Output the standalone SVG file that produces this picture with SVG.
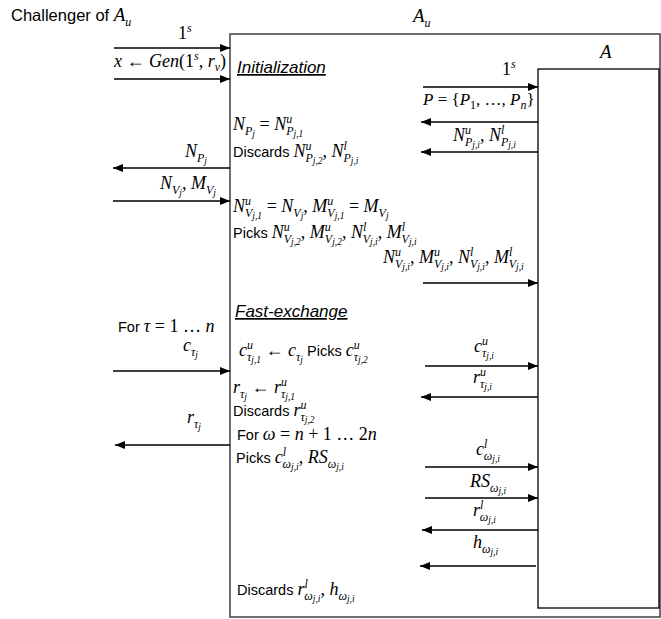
<svg xmlns="http://www.w3.org/2000/svg" width="661" height="619" viewBox="0 0 661 619">
<defs>
<marker id="ah" markerUnits="userSpaceOnUse" markerWidth="10" markerHeight="8" refX="10" refY="4" orient="auto">
<path d="M0,0 L10,4 L0,8 z" fill="#000"/>
</marker>
<style>
.m{font-family:"Liberation Serif",serif;font-style:italic;font-size:18px;fill:#000}
.sans{font-family:"Liberation Sans",Arial,sans-serif;font-style:normal;font-size:14.5px}
.up{font-style:normal}
.s{font-size:12px}
.x{font-size:9.5px}
.h{font-family:"Liberation Sans",Arial,sans-serif;font-style:italic;font-size:17px;text-decoration:underline;fill:#000}
.big{font-size:19px}
.arr{stroke:#000;stroke-width:1.6;fill:none;marker-end:url(#ah)}
</style>
</defs>
<rect width="661" height="619" fill="#fff"/>

<g id="challenger">
<text class="m" x="11" y="21"><tspan class="sans" style="font-size:16.5px">Challenger of </tspan><tspan class="big">A</tspan><tspan class="s" dy="5">u</tspan></text>
</g>

<g id="Au">
<rect x="230" y="34" width="430" height="583" fill="none" stroke="#404040" stroke-width="1.5"/>
<text class="m big" x="413" y="22">A<tspan class="s" dy="5">u</tspan></text>
<text class="h" x="237" y="73">Initialization</text>
<text class="m" x="233" y="130">N<tspan class="s" dy="5">P</tspan><tspan class="x" dy="2">j</tspan><tspan class="up" dy="-7"> = </tspan>N<tspan class="s" dy="-7">u</tspan><tspan class="s" dx="-6" dy="12">P</tspan><tspan class="x" dy="2">j,1</tspan></text>
<text class="m" x="233" y="157"><tspan class="sans">Discards </tspan>N<tspan class="s" dy="-7">u</tspan><tspan class="s" dx="-6" dy="12">P</tspan><tspan class="x" dy="2">j,2</tspan><tspan class="up" dy="-7">, </tspan>N<tspan class="s" dy="-7">l</tspan><tspan class="s" dx="-3.5" dy="12">P</tspan><tspan class="x" dy="2">j,i</tspan></text>
<text class="m" x="233" y="212">N<tspan class="s" dy="-7">u</tspan><tspan class="s" dx="-6" dy="12">V</tspan><tspan class="x" dy="2">j,1</tspan><tspan class="up" dy="-7"> = </tspan>N<tspan class="s" dy="5">V</tspan><tspan class="x" dy="2">j</tspan><tspan class="up" dy="-7">, </tspan>M<tspan class="s" dy="-7">u</tspan><tspan class="s" dx="-6" dy="12">V</tspan><tspan class="x" dy="2">j,1</tspan><tspan class="up" dy="-7"> = </tspan>M<tspan class="s" dy="5">V</tspan><tspan class="x" dy="2">j</tspan></text>
<text class="m" x="233" y="238"><tspan class="sans">Picks  </tspan>N<tspan class="s" dy="-7">u</tspan><tspan class="s" dx="-6" dy="12">V</tspan><tspan class="x" dy="2">j,2</tspan><tspan class="up" dy="-7">, </tspan>M<tspan class="s" dy="-7">u</tspan><tspan class="s" dx="-6" dy="12">V</tspan><tspan class="x" dy="2">j,2</tspan><tspan class="up" dy="-7">, </tspan>N<tspan class="s" dy="-7">l</tspan><tspan class="s" dx="-3.5" dy="12">V</tspan><tspan class="x" dy="2">j,i</tspan><tspan class="up" dy="-7">, </tspan>M<tspan class="s" dy="-7">l</tspan><tspan class="s" dx="-3.5" dy="12">V</tspan><tspan class="x" dy="2">j,i</tspan></text>
<text class="h" x="235" y="317">Fast-exchange</text>
<text class="m" x="239" y="356">c<tspan class="s" dy="-7">u</tspan><tspan class="s" dx="-6" dy="12">τ</tspan><tspan class="x" dy="2">j,1</tspan><tspan class="up" dy="-7"> ← </tspan>c<tspan class="s" dy="5">τ</tspan><tspan class="x" dy="2">j</tspan><tspan class="sans" dy="-7"> Picks </tspan>c<tspan class="s" dy="-7">u</tspan><tspan class="s" dx="-6" dy="12">τ</tspan><tspan class="x" dy="2">j,2</tspan></text>
<text class="m" x="233" y="393">r<tspan class="s" dy="5">τ</tspan><tspan class="x" dy="2">j</tspan><tspan class="up" dy="-7"> ← </tspan>r<tspan class="s" dy="-7">u</tspan><tspan class="s" dx="-6" dy="12">τ</tspan><tspan class="x" dy="2">j,1</tspan></text>
<text class="m" x="233" y="416"><tspan class="sans">Discards </tspan>r<tspan class="s" dy="-7">u</tspan><tspan class="s" dx="-6" dy="12">τ</tspan><tspan class="x" dy="2">j,2</tspan></text>
<text class="m" x="237" y="440"><tspan class="sans">For </tspan>ω<tspan class="up"> = </tspan>n<tspan class="up"> + 1 … 2</tspan>n</text>
<text class="m" x="236" y="463"><tspan class="sans">Picks </tspan>c<tspan class="s" dy="-7">l</tspan><tspan class="s" dx="-3.5" dy="12">ω</tspan><tspan class="x" dy="2">j,i</tspan><tspan class="up" dy="-7">, </tspan>RS<tspan class="s" dy="5">ω</tspan><tspan class="x" dy="2">j,i</tspan></text>
<text class="m" x="237" y="595"><tspan class="sans">Discards </tspan>r<tspan class="s" dy="-7">l</tspan><tspan class="s" dx="-3.5" dy="12">ω</tspan><tspan class="x" dy="2">j,i</tspan><tspan class="up" dy="-7">, </tspan>h<tspan class="s" dy="5">ω</tspan><tspan class="x" dy="2">j,i</tspan></text>
</g>

<g id="A">
<rect x="538" y="69" width="121" height="539" fill="none" stroke="#000" stroke-width="1.3"/>
<text class="m big" x="600" y="58">A</text>
</g>

<g id="connectors">
<line class="arr" x1="114" y1="48" x2="230" y2="48"/>
<line class="arr" x1="114" y1="79" x2="230" y2="79"/>
<line class="arr" x1="423" y1="87" x2="538" y2="87"/>
<line class="arr" x1="538" y1="122" x2="421" y2="122"/>
<line class="arr" x1="538" y1="152" x2="421" y2="152"/>
<line class="arr" x1="230" y1="168" x2="113" y2="168"/>
<line class="arr" x1="113" y1="201" x2="230" y2="201"/>
<line class="arr" x1="423" y1="283" x2="538" y2="283"/>
<line class="arr" x1="113" y1="371" x2="230" y2="371"/>
<line class="arr" x1="425" y1="366" x2="538" y2="366"/>
<line class="arr" x1="538" y1="397" x2="421" y2="397"/>
<line class="arr" x1="230" y1="445" x2="115" y2="445"/>
<line class="arr" x1="425" y1="467" x2="538" y2="467"/>
<line class="arr" x1="425" y1="498" x2="538" y2="498"/>
<line class="arr" x1="538" y1="530" x2="422" y2="530"/>
<line class="arr" x1="536" y1="566" x2="420" y2="566"/>

<text class="m" x="178" y="39"><tspan class="up">1</tspan><tspan class="s" dy="-7">s</tspan></text>
<text class="m" x="114" y="67">x<tspan class="up"> ← </tspan>Gen<tspan class="up">(1</tspan><tspan class="s" dy="-7">s</tspan><tspan class="up" dy="7">, </tspan>r<tspan class="s" dy="4">v</tspan><tspan class="up" dy="-4">)</tspan></text>
<text class="m" x="502" y="75"><tspan class="up">1</tspan><tspan class="s" dy="-7">s</tspan></text>
<text class="m" x="423" y="105" style="font-size:17px">P<tspan class="up"> = {</tspan>P<tspan class="s up" dy="4">1</tspan><tspan class="up" dy="-4">, …, </tspan>P<tspan class="s" dy="4">n</tspan><tspan class="up" dy="-4">}</tspan></text>
<text class="m" x="453" y="141">N<tspan class="s" dy="-7">u</tspan><tspan class="s" dx="-6" dy="12">P</tspan><tspan class="x" dy="2">j,i</tspan><tspan class="up" dy="-7">, </tspan>N<tspan class="s" dy="-7">l</tspan><tspan class="s" dx="-3.5" dy="12">P</tspan><tspan class="x" dy="2">j,i</tspan></text>
<text class="m" x="185" y="157">N<tspan class="s" dy="5">P</tspan><tspan class="x" dy="2">j</tspan></text>
<text class="m" x="160" y="189">N<tspan class="s" dy="5">V</tspan><tspan class="x" dy="2">j</tspan><tspan class="up" dy="-7">, </tspan>M<tspan class="s" dy="5">V</tspan><tspan class="x" dy="2">j</tspan></text>
<text class="m" x="383" y="263">N<tspan class="s" dy="-7">u</tspan><tspan class="s" dx="-6" dy="12">V</tspan><tspan class="x" dy="2">j,i</tspan><tspan class="up" dy="-7">, </tspan>M<tspan class="s" dy="-7">u</tspan><tspan class="s" dx="-6" dy="12">V</tspan><tspan class="x" dy="2">j,i</tspan><tspan class="up" dy="-7">, </tspan>N<tspan class="s" dy="-7">l</tspan><tspan class="s" dx="-3.5" dy="12">V</tspan><tspan class="x" dy="2">j,i</tspan><tspan class="up" dy="-7">, </tspan>M<tspan class="s" dy="-7">l</tspan><tspan class="s" dx="-3.5" dy="12">V</tspan><tspan class="x" dy="2">j,i</tspan></text>
<text class="m" x="118" y="332"><tspan class="sans">For </tspan>τ<tspan class="up"> = 1 … </tspan>n</text>
<text class="m" x="183" y="351">c<tspan class="s" dy="5">τ</tspan><tspan class="x" dy="2">j</tspan></text>
<text class="m" x="474" y="352">c<tspan class="s" dy="-7">u</tspan><tspan class="s" dx="-6" dy="12">τ</tspan><tspan class="x" dy="2">j,i</tspan></text>
<text class="m" x="473" y="383">r<tspan class="s" dy="-7">u</tspan><tspan class="s" dx="-6" dy="12">τ</tspan><tspan class="x" dy="2">j,i</tspan></text>
<text class="m" x="187" y="423">r<tspan class="s" dy="5">τ</tspan><tspan class="x" dy="2">j</tspan></text>
<text class="m" x="476" y="455">c<tspan class="s" dy="-7">l</tspan><tspan class="s" dx="-3.5" dy="12">ω</tspan><tspan class="x" dy="2">j,i</tspan></text>
<text class="m" x="470" y="487">RS<tspan class="s" dy="5">ω</tspan><tspan class="x" dy="2">j,i</tspan></text>
<text class="m" x="473" y="516">r<tspan class="s" dy="-7">l</tspan><tspan class="s" dx="-3.5" dy="12">ω</tspan><tspan class="x" dy="2">j,i</tspan></text>
<text class="m" x="473" y="548">h<tspan class="s" dy="5">ω</tspan><tspan class="x" dy="2">j,i</tspan></text>
</g>
</svg>
